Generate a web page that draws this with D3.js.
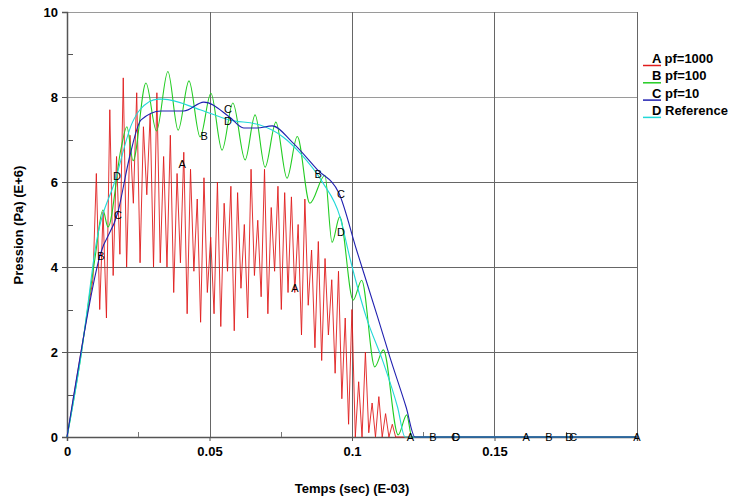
<!DOCTYPE html>
<html>
<head>
<meta charset="utf-8">
<script src="https://cdn.jsdelivr.net/npm/d3@7"></script>
<style>
  body { margin: 0; background: #fff; }
  text { font-family: "Liberation Sans", Arial, sans-serif; }
</style>
</head>
<body>
<div class="chart"></div>
<script>
var svgWidth = 738;
var svgHeight = 501;

var margin = { top: 12, right: 101, bottom: 64, left: 67 };
var width = svgWidth - margin.left - margin.right;
var height = svgHeight - margin.top - margin.bottom;

// tick values
var xMajorTicks = [0, 0.05, 0.1, 0.15];
var xMinorTicks = [0.025, 0.075, 0.125, 0.175];
var yMajorTicks = [0, 2, 4, 6, 8, 10];
var yMinorTicks = [1, 3, 5, 7, 9];

// A pf=1000 : extrema sampled every redStep from redStart
var redStart = 0.0103;
var redStep = 0.00118;
var redP = [
  6.2, 3.0, 5.3, 2.8, 7.7, 3.8, 6.6, 4.3, 8.45, 4.0, 7.1, 5.5, 8.1, 4.1, 7.3, 5.7, 7.6, 4.0,
  8.1, 4.1, 6.6, 4.0, 7.1, 3.4, 6.2, 4.1, 6.7, 2.9, 6.3, 3.9, 5.6, 2.7, 6.1, 3.4, 4.7, 2.9, 6.0, 2.6,
  5.5, 3.9, 5.9, 2.5, 5.75, 3.5, 5.0, 2.8, 6.3, 3.8, 5.1, 3.3, 6.3, 2.9, 5.4, 3.9, 5.9, 3.0, 5.75, 3.4,
  5.65, 3.4, 5.0, 2.4, 5.6, 3.1, 4.4, 2.1, 4.6, 1.8, 4.2, 2.4, 3.7, 1.5, 3.9, 0.9, 2.8, 0.3, 3.0, 0.0,
  1.3, 0.0, 2.0, 0.1, 0.8, 0.0, 0.95, 0.0, 0.55, 0.0, 0.3, 0.0
];

// B pf=100
var greenT = [0, 0.0052, 0.0074, 0.0098, 0.0126, 0.0144, 0.019, 0.021, 0.0232, 0.0277, 0.0314,
  0.0354, 0.039, 0.0428, 0.0467, 0.0505, 0.0544, 0.0582, 0.0625, 0.066, 0.0695, 0.0733, 0.0772,
  0.0808, 0.0852, 0.0905, 0.093, 0.0957, 0.1004, 0.1034, 0.108, 0.111, 0.1162, 0.1192, 0.121, 0.2];
var greenP = [0, 2.05, 3.1, 4.2, 5.34, 4.94, 6.8, 7.3, 6.5, 8.33, 7.2,
  8.6, 7.22, 8.38, 7.06, 8.09, 6.75, 7.86, 6.52, 7.58, 6.35, 7.41, 6.09,
  7.07, 5.5, 6.16, 4.58, 5.18, 3.22, 3.69, 1.65, 2.05, 0.05, 0.52, 0, 0];

// C pf=10
var blueT = [0, 0.0021, 0.0116, 0.0179, 0.022, 0.026, 0.033, 0.041, 0.048, 0.057, 0.062, 0.0667,
  0.072, 0.079, 0.088, 0.0954, 0.1016, 0.109, 0.1133, 0.119, 0.1221, 0.2];
var blueP = [0, 0.87, 4.28, 5.3, 6.6, 7.46, 7.67, 7.67, 7.88, 7.53, 7.27, 7.27,
  7.32, 6.94, 6.28, 5.74, 4.4, 2.82, 1.88, 0.7, 0, 0];

// D Reference
var cyanT = [0, 0.0052, 0.0074, 0.0097, 0.0172, 0.0228, 0.0256, 0.032, 0.0337, 0.0467, 0.057,
  0.0677, 0.0758, 0.0818, 0.0898, 0.0958, 0.0993, 0.105, 0.111, 0.116, 0.1186, 0.2];
var cyanP = [0, 2.05, 3.15, 4.33, 6.1, 7.38, 7.7, 7.95, 7.95, 7.7, 7.46,
  7.34, 7.06, 6.68, 5.98, 5.18, 4.2, 2.82, 1.75, 0.7, 0, 0];

// curve letters
var markLetters = ["B", "C", "D", "A", "B", "C", "D", "B", "C", "D", "A",
  "A", "B", "C", "D", "A", "B", "C", "D", "A"];
var markT = [0.0119, 0.0179, 0.0175, 0.0404, 0.0481, 0.0565, 0.0565, 0.0881, 0.0961, 0.0961, 0.08,
  0.1205, 0.1284, 0.1362, 0.1366, 0.1611, 0.1691, 0.1776, 0.1762, 0.2];
var markP = [4.26, 5.22, 6.14, 6.42, 7.08, 7.72, 7.44, 6.19, 5.72, 4.82, 3.51,
  0, 0, 0, 0, 0, 0, 0, 0, 0];

var legendLetters = ["A", "B", "C", "D"];
var legendNames = ["pf=1000", "pf=100", "pf=10", "Reference"];
var seriesColors = ["#e01c1c", "#22cc22", "#2020b0", "#22d8d8"];

var svg = d3.select(".chart")
  .append("svg")
  .attr("width", svgWidth)
  .attr("height", svgHeight);

var chartGroup = svg.append("g")
  .attr("transform", `translate(${margin.left}, ${margin.top})`);

var xScale = d3.scaleLinear().domain([0, 0.2]).range([0, width]);
var yScale = d3.scaleLinear().domain([0, 10]).range([height, 0]);

// grid
chartGroup.append("g")
  .selectAll("line")
  .data([2, 4, 6, 8, 10])
  .enter()
  .append("line")
  .attr("x1", 0)
  .attr("x2", width)
  .attr("y1", d => Math.round(yScale(d)) + 0.5)
  .attr("y2", d => Math.round(yScale(d)) + 0.5)
  .attr("stroke", d => d >= 8 ? "#9a9a9a" : "#666");

chartGroup.append("g")
  .selectAll("line")
  .data([0.05, 0.1, 0.15, 0.2])
  .enter()
  .append("line")
  .attr("x1", d => Math.round(xScale(d)) + 0.5)
  .attr("x2", d => Math.round(xScale(d)) + 0.5)
  .attr("y1", 0)
  .attr("y2", height)
  .attr("stroke", "#666");

// axes
var bottomAxis = d3.axisBottom(xScale)
  .tickValues(xMajorTicks)
  .tickFormat(d => d === 0 ? "0" : d3.format("")(d))
  .tickSize(4)
  .tickPadding(6);

var leftAxis = d3.axisLeft(yScale)
  .tickValues(yMajorTicks)
  .tickSize(5)
  .tickPadding(4);

var xAxis = chartGroup.append("g")
  .attr("transform", `translate(0, ${height})`)
  .call(bottomAxis);

var yAxis = chartGroup.append("g")
  .call(leftAxis);

[xAxis, yAxis].forEach(function(ax) {
  ax.select(".domain").attr("stroke", "#555").attr("stroke-width", 1.5);
  ax.selectAll(".tick line").attr("stroke", "#555");
  ax.selectAll(".tick text")
    .attr("fill", "#000")
    .attr("font-size", "13px")
    .attr("font-weight", "bold")
    .attr("font-family", "Liberation Sans, Arial, sans-serif");
});

// minor ticks
chartGroup.append("g")
  .selectAll("line")
  .data(xMinorTicks)
  .enter()
  .append("line")
  .attr("x1", d => Math.round(xScale(d)) + 0.5)
  .attr("x2", d => Math.round(xScale(d)) + 0.5)
  .attr("y1", height)
  .attr("y2", height - 5)
  .attr("stroke", "#777");

chartGroup.append("g")
  .selectAll("line")
  .data(yMinorTicks)
  .enter()
  .append("line")
  .attr("x1", 0)
  .attr("x2", 6)
  .attr("y1", d => Math.round(yScale(d)) + 0.5)
  .attr("y2", d => Math.round(yScale(d)) + 0.5)
  .attr("stroke", "#555");

// build series
var redData = [[0, 0], [0.0091, 3.7]];
redP.forEach(function(p, i) {
  redData.push([redStart + i * redStep, p]);
});
redData.push([0.2, 0]);

var greenData = greenT.map((t, i) => [t, greenP[i]]);
var blueData = blueT.map((t, i) => [t, blueP[i]]);
var cyanData = cyanT.map((t, i) => [t, cyanP[i]]);

var lineLinear = d3.line()
  .x(d => xScale(d[0]))
  .y(d => yScale(d[1]));

var lineSmooth = d3.line()
  .x(d => xScale(d[0]))
  .y(d => yScale(d[1]))
  .curve(d3.curveMonotoneX);

chartGroup.append("path")
  .attr("d", lineLinear(redData))
  .attr("fill", "none")
  .attr("stroke", seriesColors[0])
  .attr("stroke-width", 0.9);

chartGroup.append("path")
  .attr("d", lineSmooth(greenData))
  .attr("fill", "none")
  .attr("stroke", seriesColors[1])
  .attr("stroke-width", 1.1);

chartGroup.append("path")
  .attr("d", lineSmooth(cyanData))
  .attr("fill", "none")
  .attr("stroke", seriesColors[3])
  .attr("stroke-width", 1.1);

chartGroup.append("path")
  .attr("d", lineSmooth(blueData))
  .attr("fill", "none")
  .attr("stroke", seriesColors[2])
  .attr("stroke-width", 1.1);

// letters on the curves
chartGroup.append("g")
  .selectAll("text")
  .data(markLetters)
  .enter()
  .append("text")
  .attr("x", (d, i) => xScale(markT[i]))
  .attr("y", (d, i) => yScale(markP[i]) + 4)
  .attr("text-anchor", "middle")
  .attr("font-size", "11px")
  .attr("fill", "#000")
  .text(d => d);

// legend
var legend = svg.append("g")
  .attr("transform", "translate(643, 63)");

legendLetters.forEach(function(l, i) {
  var row = legend.append("g").attr("transform", `translate(0, ${i * 17.3})`);
  row.append("line")
    .attr("x1", 0)
    .attr("x2", 18)
    .attr("y1", 2.5)
    .attr("y2", 2.5)
    .attr("stroke", seriesColors[i])
    .attr("stroke-width", 1.5);
  row.append("text")
    .attr("x", 9)
    .attr("y", 0)
    .attr("font-size", "13px")
    .attr("font-weight", "bold")
    .text(l + " " + legendNames[i]);
});

// axis titles
svg.append("text")
  .attr("x", margin.left + 285)
  .attr("y", 493)
  .attr("text-anchor", "middle")
  .attr("font-size", "13px")
  .attr("font-weight", "bold")
  .text("Temps (sec) (E-03)");

svg.append("text")
  .attr("transform", "translate(23, 225) rotate(-90)")
  .attr("text-anchor", "middle")
  .attr("font-size", "13px")
  .attr("font-weight", "bold")
  .text("Pression (Pa) (E+6)");
</script>
</body>
</html>
